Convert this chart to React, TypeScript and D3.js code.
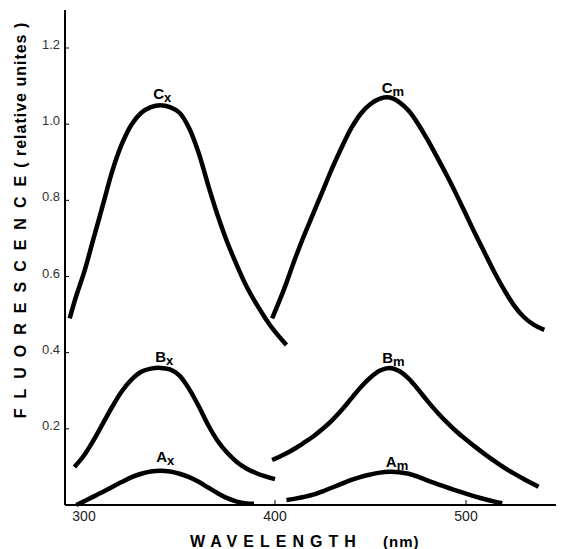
import React from 'react';
import * as d3 from 'd3';

interface Pt {
    wl: number;
    v: number;
}

// curves: [wavelength nm, fluorescence]
const cx: [number, number][] = [
    [292.5, 0.49], [296, 0.55], [300, 0.61], [305, 0.7], [310, 0.79], [315, 0.88],
    [320, 0.95], [325, 1.0], [330, 1.03], [335, 1.045], [340, 1.05], [345, 1.045],
    [350, 1.03], [355, 0.99], [360, 0.925], [365, 0.84], [370, 0.76], [375, 0.69],
    [380, 0.63], [385, 0.575], [390, 0.53], [395, 0.49], [400, 0.455], [406, 0.42],
];
const cm: [number, number][] = [
    [398.5, 0.49], [405, 0.57], [410, 0.64], [415, 0.705], [420, 0.765], [425, 0.825],
    [430, 0.885], [435, 0.94], [440, 0.99], [445, 1.028], [450, 1.053], [455, 1.067],
    [460, 1.07], [465, 1.058], [470, 1.035], [475, 1.0], [480, 0.958], [485, 0.912],
    [490, 0.865], [495, 0.815], [500, 0.763], [505, 0.71], [510, 0.66], [515, 0.61],
    [520, 0.565], [525, 0.525], [530, 0.495], [535, 0.475], [541, 0.46],
];
const bx: [number, number][] = [
    [295, 0.1], [300, 0.13], [305, 0.17], [310, 0.215], [315, 0.26], [320, 0.3],
    [325, 0.33], [330, 0.35], [335, 0.358], [340, 0.36], [345, 0.356], [350, 0.34],
    [355, 0.305], [360, 0.26], [365, 0.21], [370, 0.168], [375, 0.137], [380, 0.113],
    [385, 0.096], [390, 0.084], [395, 0.075], [400, 0.068],
];
const bm: [number, number][] = [
    [398.5, 0.118], [405, 0.133], [410, 0.147], [415, 0.163], [420, 0.18], [425, 0.2],
    [430, 0.223], [435, 0.25], [440, 0.28], [445, 0.31], [450, 0.335], [455, 0.353],
    [460, 0.36], [465, 0.352], [470, 0.332], [475, 0.303], [480, 0.272], [485, 0.243],
    [490, 0.217], [495, 0.193], [500, 0.172], [505, 0.152], [510, 0.133], [515, 0.115],
    [520, 0.098], [525, 0.083], [530, 0.069], [538, 0.048],
];
const ax: [number, number][] = [
    [296, 0.0], [300, 0.01], [305, 0.022], [310, 0.035], [315, 0.048], [320, 0.061],
    [325, 0.073], [330, 0.082], [335, 0.088], [340, 0.09], [345, 0.088], [350, 0.082],
    [355, 0.073], [360, 0.061], [365, 0.046], [370, 0.031], [375, 0.018], [380, 0.009],
    [385, 0.004], [389, 0.003],
];
const am: [number, number][] = [
    [406, 0.013], [410, 0.016], [415, 0.021], [420, 0.027], [425, 0.036], [430, 0.046],
    [435, 0.056], [440, 0.066], [445, 0.074], [450, 0.08], [455, 0.085], [460, 0.087],
    [465, 0.086], [470, 0.082], [475, 0.074], [480, 0.064], [485, 0.055], [490, 0.046],
    [495, 0.038], [500, 0.03], [505, 0.022], [510, 0.015], [515, 0.009], [519, 0.005],
];

// peak labels: letter, subscript, wavelength, value (baseline)
const peakLabels: [string, string, number, number][] = [
    ['C', 'x', 341, 1.066],
    ['C', 'm', 461.7, 1.082],
    ['B', 'x', 342, 0.375],
    ['B', 'm', 462, 0.373],
    ['A', 'x', 342.5, 0.113],
    ['A', 'm', 463.9, 0.1],
];

const xTicks = [300, 400, 500];
const yTicks = [0.2, 0.4, 0.6, 0.8, 1.0, 1.2];

const App: React.FC = () => {
    const width = 571;
    const height = 549;

    const xScale = d3.scaleLinear().domain([300, 500]).range([84, 466]);
    const yScale = d3.scaleLinear().domain([0, 1.2]).range([505, 48]);

    const axisX = 65;
    const axisY = 505;

    const line = d3
        .line<Pt>()
        .x((d) => xScale(d.wl))
        .y((d) => yScale(d.v))
        .curve(d3.curveCatmullRom.alpha(0.5));

    const curves = [cx, cm, bx, bm, ax, am].map((c) => c.map(([wl, v]) => ({ wl, v })));

    const font = '"Liberation Sans", Arial, sans-serif';

    return (
        <svg
            width={width}
            height={height}
            style={{ position: 'absolute', left: 0, top: 0, background: '#fff' }}
            fontFamily={font}
        >
            {/* axes */}
            <line x1={axisX} y1={10} x2={axisX} y2={axisY} stroke="#000" strokeWidth={2} />
            <line x1={axisX} y1={axisY} x2={556} y2={axisY} stroke="#000" strokeWidth={2} />

            {xTicks.map((t) => (
                <g key={t}>
                    <line x1={xScale(t)} x2={xScale(t)} y1={axisY} y2={axisY - 5} stroke="#000" strokeWidth={1} />
                    <text x={xScale(t)} y={axisY + 16} textAnchor="middle" fontSize={14} fill="#222">
                        {t}
                    </text>
                </g>
            ))}

            {yTicks.map((t) => (
                <g key={t}>
                    <line x1={axisX} x2={axisX + 4} y1={yScale(t)} y2={yScale(t)} stroke="#000" strokeWidth={1} />
                    <text x={axisX - 5} y={yScale(t) + 1} textAnchor="end" fontSize={13} fill="#333">
                        {t.toFixed(1)}
                    </text>
                </g>
            ))}

            {/* curves */}
            {curves.map((c, i) => (
                <path key={i} d={line(c) ?? ''} fill="none" stroke="#000" strokeWidth={4.5} strokeLinecap="butt" />
            ))}

            {/* peak labels */}
            {peakLabels.map(([l, s, wl, v]) => (
                <text
                    key={l + s}
                    x={xScale(wl)}
                    y={yScale(v)}
                    textAnchor="middle"
                    fontSize={15}
                    fontWeight="bold"
                    fill="#000"
                >
                    {l}
                    <tspan fontSize={13} dy={3}>
                        {s}
                    </tspan>
                </text>
            ))}

            {/* axis titles */}
            <text x={190} y={547} fontWeight="bold" fontSize={16} letterSpacing={6} fill="#000">
                WAVELENGTH
            </text>
            <text x={383} y={547} fontWeight="bold" fontSize={15} letterSpacing={1} fill="#000">
                (nm)
            </text>

            <text
                transform="translate(26,220) rotate(-90)"
                textAnchor="middle"
                fontWeight="bold"
                fill="#000"
            >
                <tspan fontSize={16} letterSpacing={10}>
                    FLUORESCENCE
                </tspan>
                <tspan fontSize={16} letterSpacing={1} dx={-2}>
                    ( relative unites )
                </tspan>
            </text>
        </svg>
    );
};

export default App;
